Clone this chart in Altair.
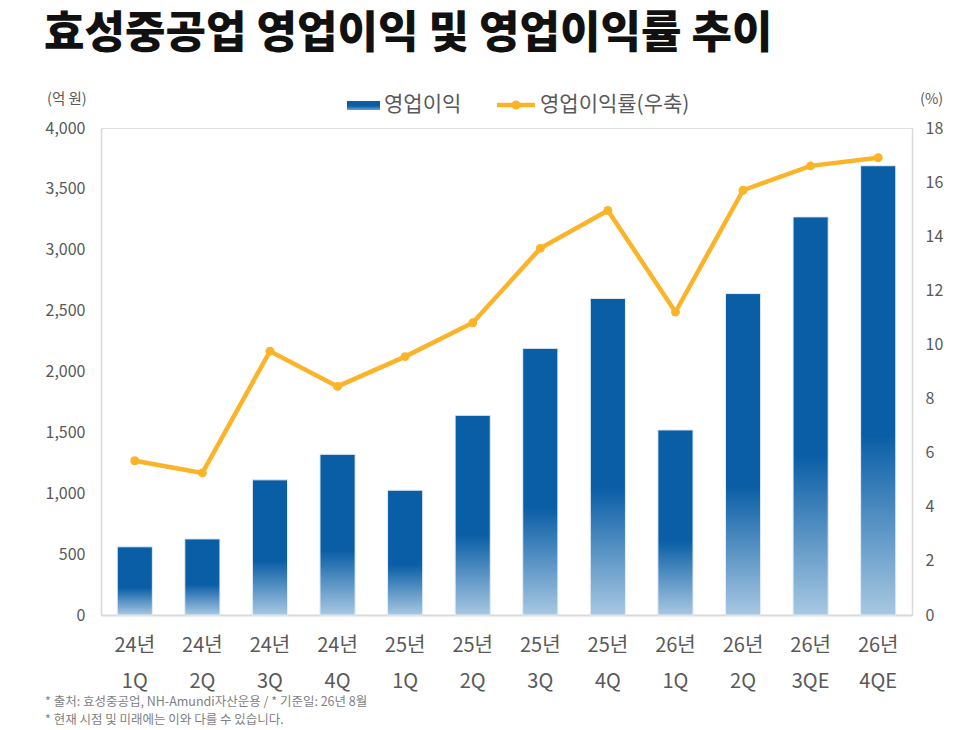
"""효성중공업 영업이익 및 영업이익률 추이 — Altair bar + line, dual axis."""

import altair as alt
import pandas as pd

quarters = [
    "24년 1Q", "24년 2Q", "24년 3Q", "24년 4Q",
    "25년 1Q", "25년 2Q", "25년 3Q", "25년 4Q",
    "26년 1Q", "26년 2Q", "26년 3QE", "26년 4QE",
]
op_profit = [560, 625, 1110, 1320, 1025, 1640, 2190, 2600, 1520, 2640, 3270, 3690]
op_margin = [5.7, 5.25, 9.75, 8.45, 9.55, 10.8, 13.55, 14.95, 11.2, 15.7, 16.6, 16.9]

title_text = "효성중공업 영업이익 및 영업이익률 추이"
left_unit = "(억 원)"
right_unit = "(%)"
legend_bar = "영업이익"
legend_line = "영업이익률(우축)"
footnotes = [
    "* 출처: 효성중공업, NH-Amundi자산운용 / * 기준일: 26년 8월",
    "* 현재 시점 및 미래에는 이와 다를 수 있습니다.",
]

FONT = "Noto Sans CJK KR"
BLUE = "#0a5ea6"
LIGHT = "#a8c8e2"
ORANGE = "#fbb42a"
GREY = "#595959"
AXIS = "#d9d9d9"

df = pd.DataFrame({"q": quarters, "profit": op_profit, "margin": op_margin})

x_enc = alt.X(
    "q:N",
    sort=quarters,
    title=None,
    scale=alt.Scale(paddingInner=0.48, paddingOuter=0.24),
    axis=alt.Axis(
        labelExpr="split(datum.label, ' ')",
        labelAngle=0,
        labelFont=FONT,
        labelFontSize=20,
        labelColor=GREY,
        labelLineHeight=36,
        labelPadding=20,
        ticks=False,
        domainColor=AXIS,
        domainWidth=2,
    ),
)

bar_grad = alt.Gradient(
    gradient="linear",
    stops=[
        alt.GradientStop(color=BLUE, offset=0),
        alt.GradientStop(color=BLUE, offset=0.6),
        alt.GradientStop(color=LIGHT, offset=1),
    ],
    x1=0, x2=0, y1=0, y2=1,
)

bars = (
    alt.Chart(df)
    .mark_bar(color=bar_grad, stroke="#e4edf6", strokeWidth=1)
    .encode(
        x=x_enc,
        y=alt.Y(
            "profit:Q",
            title=None,
            scale=alt.Scale(domain=[0, 4000]),
            axis=alt.Axis(
                values=list(range(0, 4001, 500)),
                format=",.0f",
                grid=False,
                ticks=False,
                labelFont=FONT,
                labelFontSize=16,
                labelColor=GREY,
                labelPadding=16,
                domainColor=AXIS,
                domainWidth=1.5,
            ),
        ),
    )
)

right_y = alt.Y(
    "margin:Q",
    title=None,
    scale=alt.Scale(domain=[0, 18]),
    axis=alt.Axis(
        orient="right",
        values=list(range(0, 19, 2)),
        grid=False,
        ticks=False,
        labelFont=FONT,
        labelFontSize=16,
        labelColor=GREY,
        labelPadding=13,
        domainColor=AXIS,
        domainWidth=1.5,
    ),
)

line = (
    alt.Chart(df)
    .mark_line(color=ORANGE, strokeWidth=4.5)
    .encode(x=x_enc, y=right_y)
)
points = (
    alt.Chart(df)
    .mark_point(filled=True, color=ORANGE, size=80, opacity=1)
    .encode(x=x_enc, y=right_y)
)

main = alt.layer(bars, alt.layer(line, points)).resolve_scale(y="independent")

# texts and legend, placed relative to the plot origin
def text_layer(txt, x, y, size, color=GREY, weight="normal", align="left"):
    return (
        alt.Chart(pd.DataFrame({"t": [txt]}))
        .mark_text(
            font=FONT, fontSize=size, color=color, fontWeight=weight,
            align=align, baseline="middle",
        )
        .encode(text="t:N", x=alt.value(x), y=alt.value(y))
    )

title = text_layer(title_text, -57, -93, 44, color="#111111", weight=900)
unit_l = text_layer(left_unit, -54, -28, 14.5)
unit_r = text_layer(right_unit, 819, -28, 14.5)
foot1 = text_layer(footnotes[0], -56, 574, 12.5, color="#7f7f7f")
foot2 = text_layer(footnotes[1], -56, 592, 12.5, color="#7f7f7f")

legend_grad = alt.Gradient(
    gradient="linear",
    stops=[
        alt.GradientStop(color=BLUE, offset=0),
        alt.GradientStop(color=BLUE, offset=0.55),
        alt.GradientStop(color="#6fa0cc", offset=1),
    ],
    x1=0, x2=0, y1=0, y2=1,
)
one = pd.DataFrame({"k": [0]})
leg_rect = (
    alt.Chart(one)
    .mark_rect(color=legend_grad)
    .encode(x=alt.value(246), x2=alt.value(279), y=alt.value(-27), y2=alt.value(-18))
)
leg_text1 = text_layer(legend_bar, 283, -23, 21)
leg_line = (
    alt.Chart(one)
    .mark_rule(color=ORANGE, strokeWidth=4.5)
    .encode(x=alt.value(396), x2=alt.value(434), y=alt.value(-23))
)
leg_dot = (
    alt.Chart(one)
    .mark_point(filled=True, color=ORANGE, size=80, opacity=1)
    .encode(x=alt.value(415), y=alt.value(-23))
)
leg_text2 = text_layer(legend_line, 439, -23, 21)

chart = (
    alt.layer(
        main, title, unit_l, unit_r, foot1, foot2,
        leg_rect, leg_text1, leg_line, leg_dot, leg_text2,
    )
    .properties(
        width=811,
        height=487,
        autosize=alt.AutoSizeParams(type="none"),
        padding={"left": 93, "top": 120, "right": 46, "bottom": 115},
    )
    .configure_view(stroke=None)
    .configure(background="white")
)

chart.save("out.html", embed_options={"renderer": "svg", "actions": False})
